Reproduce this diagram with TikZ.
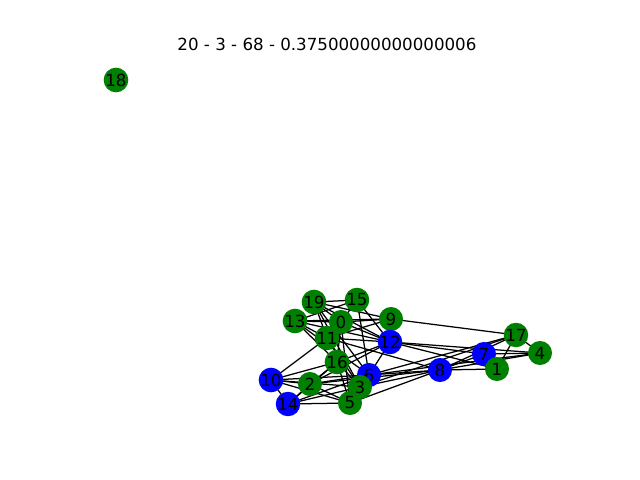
\documentclass[tikz,border=0pt]{standalone}
\usepackage{fontspec}
\setmainfont{DejaVu Sans}
\definecolor{ngreen}{HTML}{008000}
\definecolor{nblue}{HTML}{0000FF}
\begin{document}
\begin{tikzpicture}[x=0.72pt,y=-0.72pt,
  vg/.style={circle,fill=ngreen,minimum size=17.3pt,inner sep=0pt,font=\fontsize{12}{12}\selectfont},
  vb/.style={circle,fill=nblue,minimum size=17.3pt,inner sep=0pt,font=\fontsize{12}{12}\selectfont},
  ed/.style={draw=black,line width=0.9pt}]
\useasboundingbox (0,0) rectangle (640,480);
\node[font=\fontsize{12}{12}\selectfont] (title) at (327,44) {20 - 3 - 68 - 0.37500000000000006};
\foreach \n/\x/\y in {18/116/80,15/357/300,19/314/302,13/295/321,0/341/322,9/391/319,11/327/338,12/390/342,17/516/335,4/540/353,7/484/354,1/497/369,16/337/362,6/369/375,8/440/370,10/271/380,2/310/384,3/360/387,14/288/404,5/350/403}
  {\coordinate (n\n) at (\x,\y);}
\foreach \a/\b in {9/17,17/4,17/1,17/8,17/6,7/4,7/8,8/4,8/1,8/6,8/3,8/5,8/2,12/4,12/1,12/7,6/4,3/17,
10/11,10/16,10/2,10/14,10/5,10/3,10/6,14/2,14/16,14/5,14/3,14/6,2/16,2/6,2/5,2/12,16/12,16/5,16/3,16/0,16/13,
19/15,19/9,19/12,19/11,19/0,19/3,19/6,13/0,13/9,13/11,13/12,13/15,13/6,0/9,0/12,0/15,0/5,15/12,15/6,11/12,11/3,11/8,11/9,9/12,12/6,5/3,6/3}
  {\path[ed] (n\a) -- (n\b);}
\node[vg] (n18) at (n18) {18};
\node[vg] (n15) at (n15) {15};
\node[vg] (n19) at (n19) {19};
\node[vg] (n13) at (n13) {13};
\node[vg] (n0) at (n0) {0};
\node[vg] (n9) at (n9) {9};
\node[vg] (n11) at (n11) {11};
\node[vb] (n12) at (n12) {12};
\node[vg] (n17) at (n17) {17};
\node[vg] (n4) at (n4) {4};
\node[vb] (n7) at (n7) {7};
\node[vg] (n1) at (n1) {1};
\node[vg] (n16) at (n16) {16};
\node[vb] (n6) at (n6) {6};
\node[vb] (n8) at (n8) {8};
\node[vb] (n10) at (n10) {10};
\node[vg] (n2) at (n2) {2};
\node[vg] (n3) at (n3) {3};
\node[vb] (n14) at (n14) {14};
\node[vg] (n5) at (n5) {5};
\end{tikzpicture}
\end{document}
